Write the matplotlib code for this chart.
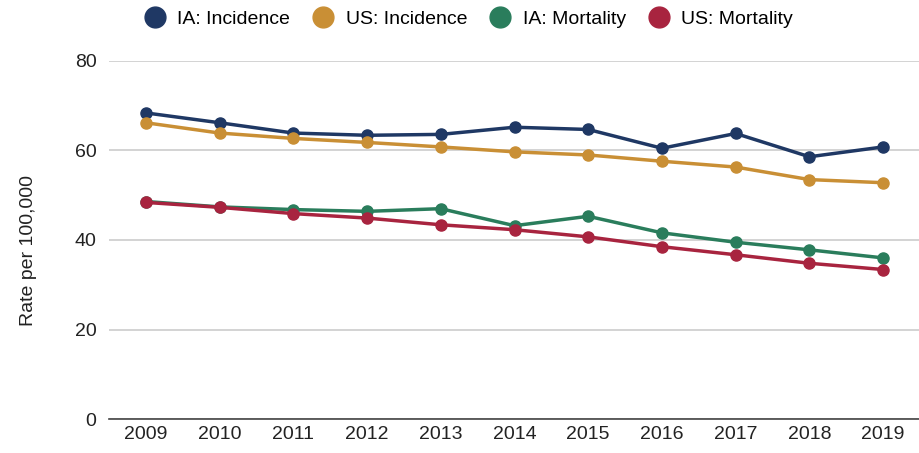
import matplotlib.pyplot as plt

plt.rcParams['font.family'] = ['Liberation Sans', 'DejaVu Sans']

years = ['2009', '2010', '2011', '2012', '2013', '2014',
         '2015', '2016', '2017', '2018', '2019']
ia_incidence = [68.4, 66.2, 63.9, 63.4, 63.6, 65.2, 64.7, 60.5, 63.8, 58.6, 60.8]
us_incidence = [66.2, 63.9, 62.7, 61.8, 60.8, 59.7, 59.0, 57.6, 56.3, 53.5, 52.8]
ia_mortality = [48.6, 47.4, 46.8, 46.4, 47.0, 43.2, 45.3, 41.6, 39.5, 37.8, 36.0]
us_mortality = [48.4, 47.3, 45.9, 44.9, 43.4, 42.3, 40.7, 38.5, 36.7, 34.8, 33.4]

series = [
    ('IA: Incidence', ia_incidence, '#1f3864'),
    ('US: Incidence', us_incidence, '#c98f35'),
    ('IA: Mortality', ia_mortality, '#2a7d5c'),
    ('US: Mortality', us_mortality, '#a8243f'),
]

fig = plt.figure(figsize=(9.2, 4.53), dpi=100)
ax = fig.add_axes([109 / 920, 34 / 453, 811 / 920, 358 / 453])

x = list(range(len(years)))
for name, vals, color in series:
    ax.plot(x, vals, color=color, lw=2.5, marker='o', markersize=8,
            label=name, zorder=3)

ax.set_xlim(-0.5, len(years) - 0.5)
ax.set_ylim(0, 80)
ax.set_yticks([0, 20, 40, 60, 80])
ax.set_xticks(x)
ax.set_xticklabels(years)
ax.tick_params(axis='both', length=0, labelsize=14, colors='#222222')
ax.tick_params(axis='y', pad=9)
ax.tick_params(axis='x', pad=5)
ax.grid(axis='y', color='#cccccc', lw=1.2)
ax.set_axisbelow(True)
for side in ['top', 'right', 'left']:
    ax.spines[side].set_visible(False)
ax.spines['bottom'].set_color('#444444')
ax.spines['bottom'].set_linewidth(1.2)
ax.set_ylabel('Rate per 100,000', fontsize=14, color='#222222')
ax.yaxis.set_label_coords(-72 / 811, 0.47)

leg = fig.legend(loc='center', bbox_to_anchor=(0.511, 0.958), ncol=4,
                 frameon=False, fontsize=14, handlelength=0.8,
                 columnspacing=1.3, handletextpad=0.75)
for h in leg.legend_handles:
    h.set_linestyle('')
    h.set_markersize(15)

fig.savefig('out.png', dpi=100)
